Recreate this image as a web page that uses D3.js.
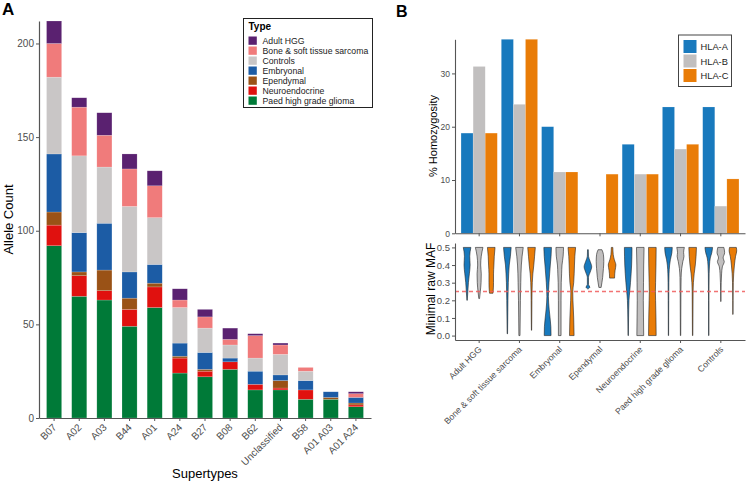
<!DOCTYPE html>
<meta charset="utf-8">
<style>
body { margin: 0; background: #fff; }
text { font-family: "Liberation Sans", Arial, Helvetica, sans-serif; }
.axis path, .axis line { stroke: #555; }
.axis text { fill: #4d4d4d; }
</style>
<body>
<script src="https://d3js.org/d3.v7.min.js"></script>
<script>

// ---- panel A data (allele counts per supertype, stacked bottom -> top)
var supertypes = ["B07","A02","A03","B44","A01","A24","B27","B08","B62","Unclassified","B58","A01 A03","A01 A24"];
var paedHGG  = [92,65,63,49,59,24,22,26,15,15,10,10,6];
var neuroend = [11,11, 5, 9,11, 8, 3, 4, 3, 1, 5, 0,1];
var ependymal= [ 7, 2,11, 6, 2, 1, 1, 0, 0, 4, 0, 1,1];
var embryonal= [31,21,25,14,10, 7, 9, 2, 7, 3, 5, 3,3];
var controls = [41,41,30,35,25,19,13, 7, 7,11, 5, 0,0];
var boneSoft = [18,26,17,20,17, 4, 6, 3,12, 5, 2, 0,2];
var adultHGG = [12, 5,12, 8, 8, 6, 4, 6, 1, 1, 0, 0,1];
var yTicksA = [0,50,100,150,200];

// legend order (alphabetical) and colours
var typeNames = ["Adult HGG","Bone & soft tissue sarcoma","Controls","Embryonal","Ependymal","Neuroendocrine","Paed high grade glioma"];
var typeColors = ["#5a2170","#f07b7b","#c9c6c6","#1c5ca5","#9a5216","#e0110f","#007a38"];

// ---- panel B data (% homozygosity)
var groups = ["Adult HGG","Bone & soft tissue sarcoma","Embryonal","Ependymal","Neuroendocrine","Paed high grade glioma","Controls"];
var hlaA = [18.8,36.4,20.0,0,16.7,23.7,23.7];
var hlaB = [31.3,24.2,11.5,0,11.1,15.8,5.1];
var hlaC = [18.8,36.4,11.5,11.1,11.1,16.7,10.2];
var hlaNames = ["HLA-A","HLA-B","HLA-C"];
var hlaColors = ["#1879bd","#c1bfbf","#e97c07"];
var yTicksB = [0,10,20,30];

// violin outlines: [MAF, relative half width]
var mafA = [
  [[0.5,1],[0.45,0.7],[0.4,0.8],[0.35,0.6],[0.3,0.35],[0.25,0.2],[0.2,0.05]],
  [[0.5,1],[0.45,0.8],[0.4,0.5],[0.35,0.35],[0.3,0.25],[0.2,0.15],[0.1,0.1],[0.01,0.05]],
  [[0.5,1],[0.45,0.9],[0.4,0.7],[0.3,0.35],[0.22,0.2],[0.15,0.4],[0.05,0.85],[0,0.9]],
  [[0.487,0.1],[0.45,0.15],[0.42,0.6],[0.39,1],[0.36,0.6],[0.33,0.15],[0.29,0.15],[0.275,0.5],[0.265,0.1]],
  [[0.5,1],[0.4,0.9],[0.3,0.6],[0.25,0.4],[0.2,0.2],[0.1,0.1],[0,0.05]],
  [[0.5,1],[0.47,0.9],[0.43,0.5],[0.4,0.3],[0.35,0.15],[0.3,0.1],[0.2,0.07],[0.1,0.05],[0,0.04]],
  [[0.5,1],[0.47,0.8],[0.44,0.4],[0.4,0.2],[0.35,0.1],[0.2,0.05],[0,0.04]]
];
var mafB = [
  [[0.5,1],[0.45,0.55],[0.4,0.4],[0.35,0.55],[0.3,0.5],[0.25,0.3],[0.21,0.1]],
  [[0.5,1],[0.45,0.7],[0.4,0.5],[0.3,0.35],[0.2,0.25],[0.1,0.2],[0,0.15]],
  [[0.5,1],[0.45,0.9],[0.4,0.6],[0.35,0.5],[0.3,0.4],[0.2,0.35],[0.1,0.35],[0,0.35]],
  [[0.487,0.5],[0.46,0.9],[0.42,1],[0.38,0.9],[0.33,0.7],[0.3,0.5],[0.273,0.3]],
  [[0.5,1],[0.4,0.9],[0.3,0.85],[0.2,0.8],[0.1,0.85],[0,0.9]],
  [[0.5,1],[0.47,0.8],[0.45,0.9],[0.42,0.6],[0.38,0.3],[0.33,0.15],[0.25,0.1],[0.1,0.07],[0,0.05]],
  [[0.5,0.8],[0.47,1],[0.44,0.6],[0.42,0.9],[0.39,0.4],[0.35,0.2],[0.3,0.1],[0.25,0.05],[0.193,0.03]]
];
var mafC = [
  [[0.5,1],[0.45,0.8],[0.4,0.7],[0.35,0.6],[0.3,0.6],[0.25,0.5],[0.24,0.45]],
  [[0.5,1],[0.45,0.8],[0.4,0.6],[0.35,0.35],[0.3,0.2],[0.2,0.1],[0.1,0.07],[0.03,0.03]],
  [[0.5,1],[0.45,0.8],[0.4,0.7],[0.3,0.5],[0.25,0.25],[0.2,0.3],[0.1,0.5],[0,0.6]],
  [[0.5,0.2],[0.46,0.3],[0.43,0.6],[0.4,1],[0.37,0.8],[0.35,0.7],[0.326,0.65]],
  [[0.5,1],[0.4,0.95],[0.3,0.85],[0.25,0.8],[0.2,0.85],[0.1,0.95],[0,1]],
  [[0.5,1],[0.45,0.9],[0.4,0.7],[0.35,0.4],[0.3,0.2],[0.25,0.12],[0.1,0.08],[0,0.05]],
  [[0.5,0.9],[0.48,1],[0.45,0.7],[0.4,0.4],[0.35,0.2],[0.3,0.1],[0.2,0.05],[0.12,0.03]]
];
var yTicksM = [0,0.1,0.2,0.3,0.4,0.5];
var mafCutoff = 0.25;

var svg = d3.select("body").append("svg")
    .attr("width", 748)
    .attr("height", 486);

// ================= PANEL A =================
var xA = d3.scaleBand().domain(supertypes).range([39, 371])
    .paddingInner(0.4).paddingOuter(0.3);
var yA = d3.scaleLinear().domain([0, 212]).range([418, 21]);

// stack bottom -> top
var stackSeries = [paedHGG, neuroend, ependymal, embryonal, controls, boneSoft, adultHGG];
var stackColors = [typeColors[6], typeColors[5], typeColors[4], typeColors[3], typeColors[2], typeColors[1], typeColors[0]];
var rows = supertypes.map(function(s, i) {
  var r = {st: s};
  stackSeries.forEach(function(ser, k) { r["k" + k] = ser[i]; });
  return r;
});
var stacked = d3.stack().keys(stackSeries.map(function(d, k) { return "k" + k; }))(rows);

svg.append("g").selectAll("g")
  .data(stacked)
  .join("g")
    .attr("fill", function(d, k) { return stackColors[k]; })
  .selectAll("rect")
  .data(function(d) { return d; })
  .join("rect")
    .attr("x", function(d) { return xA(d.data.st); })
    .attr("width", xA.bandwidth())
    .attr("y", function(d) { return yA(d[1]); })
    .attr("height", function(d) { return yA(d[0]) - yA(d[1]); })
    .attr("stroke", "#fff")
    .attr("stroke-opacity", 0.35)
    .attr("stroke-width", 0.5);

var axA_y = svg.append("g").attr("class", "axis")
    .attr("transform", "translate(39,0)")
    .call(d3.axisLeft(yA).tickValues(yTicksA).tickSize(3).tickSizeOuter(0).tickPadding(2));
axA_y.selectAll("text").style("font-size", "10px");
axA_y.select(".domain").attr("stroke-width", 1.2);

var axA_x = svg.append("g").attr("class", "axis")
    .attr("transform", "translate(0,418)")
    .call(d3.axisBottom(xA).tickSize(3).tickSizeOuter(0));
axA_x.select(".domain").attr("stroke-width", 1.2);
axA_x.selectAll("text")
    .style("font-size", "10px")
    .attr("text-anchor", "end")
    .attr("dy", null)
    .attr("y", 0)
    .attr("transform", "translate(3,10) rotate(-45)");

svg.append("text").attr("x", 8).attr("y", 219.5)
    .attr("transform", "rotate(-90,8,219.5)")
    .attr("text-anchor", "middle").attr("dy", "0.35em")
    .style("font-size", "13px").text("Allele Count");
svg.append("text").attr("x", 205).attr("y", 478)
    .attr("text-anchor", "middle")
    .style("font-size", "13px").text("Supertypes");
svg.append("text").attr("x", 2).attr("y", 15)
    .style("font-size", "17px").style("font-weight", "bold").text("A");

// legend A
var legA = svg.append("g").attr("transform", "translate(243.5,18.5)");
legA.append("rect").attr("width", 129).attr("height", 89)
    .attr("fill", "#fff").attr("stroke", "#222").attr("stroke-width", 1);
legA.append("text").attr("x", 5).attr("y", 11)
    .style("font-size", "10px").style("font-weight", "bold").text("Type");
typeNames.forEach(function(n, i) {
  legA.append("rect").attr("x", 5).attr("y", 18 + i * 10)
      .attr("width", 8.3).attr("height", 8.3).attr("fill", typeColors[i]);
  legA.append("text").attr("x", 19).attr("y", 25.3 + i * 10)
      .style("font-size", "8.7px").attr("fill", "#222").text(n);
});

// ================= PANEL B (top) =================
var xB = d3.scaleBand().domain(groups).range([455, 745])
    .paddingInner(0.1).paddingOuter(0.15);
var xSub = d3.scaleBand().domain(hlaNames).range([0, xB.bandwidth()]);
var yB = d3.scaleLinear().domain([0, 36.4]).range([233.3, 39.3]);

var hlaSeries = [hlaA, hlaB, hlaC];
var gB = svg.append("g");
groups.forEach(function(g, i) {
  hlaSeries.forEach(function(ser, k) {
    if (ser[i] <= 0) return;
    gB.append("rect")
      .attr("x", xB(g) + xSub(hlaNames[k]))
      .attr("width", xSub.bandwidth())
      .attr("y", yB(ser[i]))
      .attr("height", yB(0) - yB(ser[i]))
      .attr("fill", hlaColors[k])
      .attr("stroke", "#fff").attr("stroke-opacity", 0.3).attr("stroke-width", 0.5);
  });
});

var axB_y = svg.append("g").attr("class", "axis")
    .attr("transform", "translate(455,0)")
    .call(d3.axisLeft(yB).tickValues(yTicksB).tickSize(3).tickSizeOuter(0).tickPadding(2));
axB_y.selectAll("text").style("font-size", "8.5px");
axB_y.select(".domain").attr("stroke-width", 1.1);
var axB_x = svg.append("g").attr("class", "axis")
    .attr("transform", "translate(0,233.3)")
    .call(d3.axisBottom(xB).tickSize(3).tickSizeOuter(0).tickFormat(""));
axB_x.select(".domain").attr("stroke-width", 1.1);

svg.append("text").attr("x", 433).attr("y", 136)
    .attr("transform", "rotate(-90,433,136)")
    .attr("text-anchor", "middle").attr("dy", "0.35em")
    .style("font-size", "11px").text("% Homozygosity");
svg.append("text").attr("x", 396).attr("y", 17)
    .style("font-size", "16px").style("font-weight", "bold").text("B");

// legend B
var legB = svg.append("g").attr("transform", "translate(678.5,35)");
legB.append("rect").attr("width", 53).attr("height", 51.5)
    .attr("fill", "#fff").attr("stroke", "#444").attr("stroke-width", 1);
hlaNames.forEach(function(n, i) {
  legB.append("rect").attr("x", 5).attr("y", 5 + i * 14.5)
      .attr("width", 13).attr("height", 13).attr("fill", hlaColors[i]);
  legB.append("text").attr("x", 22).attr("y", 15.3 + i * 14.5)
      .style("font-size", "9.3px").attr("fill", "#222").text(n);
});

// ================= PANEL B (bottom violins) =================
var yM = d3.scaleLinear().domain([-0.025, 0.525]).range([340, 243]);
var violinHalf = 3.8;
var violin = d3.area()
    .curve(d3.curveMonotoneY)
    .y(function(d) { return yM(d[0]); });

var mafSeries = [mafA, mafB, mafC];
var gV = svg.append("g");
groups.forEach(function(g, i) {
  mafSeries.forEach(function(ser, k) {
    var cx = xB(g) + xSub(hlaNames[k]) + xSub.bandwidth() / 2;
    violin.x0(function(d) { return cx - d[1] * violinHalf; })
          .x1(function(d) { return cx + d[1] * violinHalf; });
    gV.append("path")
      .attr("d", violin(ser[i]))
      .attr("fill", hlaColors[k])
      .attr("stroke", "#222")
      .attr("stroke-width", 0.6);
  });
});

svg.append("line")
    .attr("x1", 455).attr("x2", 745)
    .attr("y1", yM(mafCutoff)).attr("y2", yM(mafCutoff))
    .attr("stroke", "#f05a5a").attr("stroke-opacity", 0.85).attr("stroke-width", 1.3)
    .attr("stroke-dasharray", "4,3");

var axM_y = svg.append("g").attr("class", "axis")
    .attr("transform", "translate(455,0)")
    .call(d3.axisLeft(yM).tickValues(yTicksM).tickFormat(d3.format(".1f"))
      .tickSize(3).tickSizeOuter(0).tickPadding(2));
axM_y.selectAll("text").style("font-size", "9.5px");
axM_y.select(".domain").attr("stroke-width", 1.1);
var axM_x = svg.append("g").attr("class", "axis")
    .attr("transform", "translate(0,340)")
    .call(d3.axisBottom(xB).tickSize(3).tickSizeOuter(0));
axM_x.select(".domain").attr("stroke-width", 1.1);
axM_x.selectAll("text")
    .style("font-size", "8.7px")
    .attr("text-anchor", "end")
    .attr("dy", null)
    .attr("y", 0)
    .attr("transform", "translate(3,10) rotate(-45)");

svg.append("text").attr("x", 431).attr("y", 289)
    .attr("transform", "rotate(-90,431,289)")
    .attr("text-anchor", "middle").attr("dy", "0.35em")
    .style("font-size", "12px").text("Minimal raw MAF");

</script>
</body>
